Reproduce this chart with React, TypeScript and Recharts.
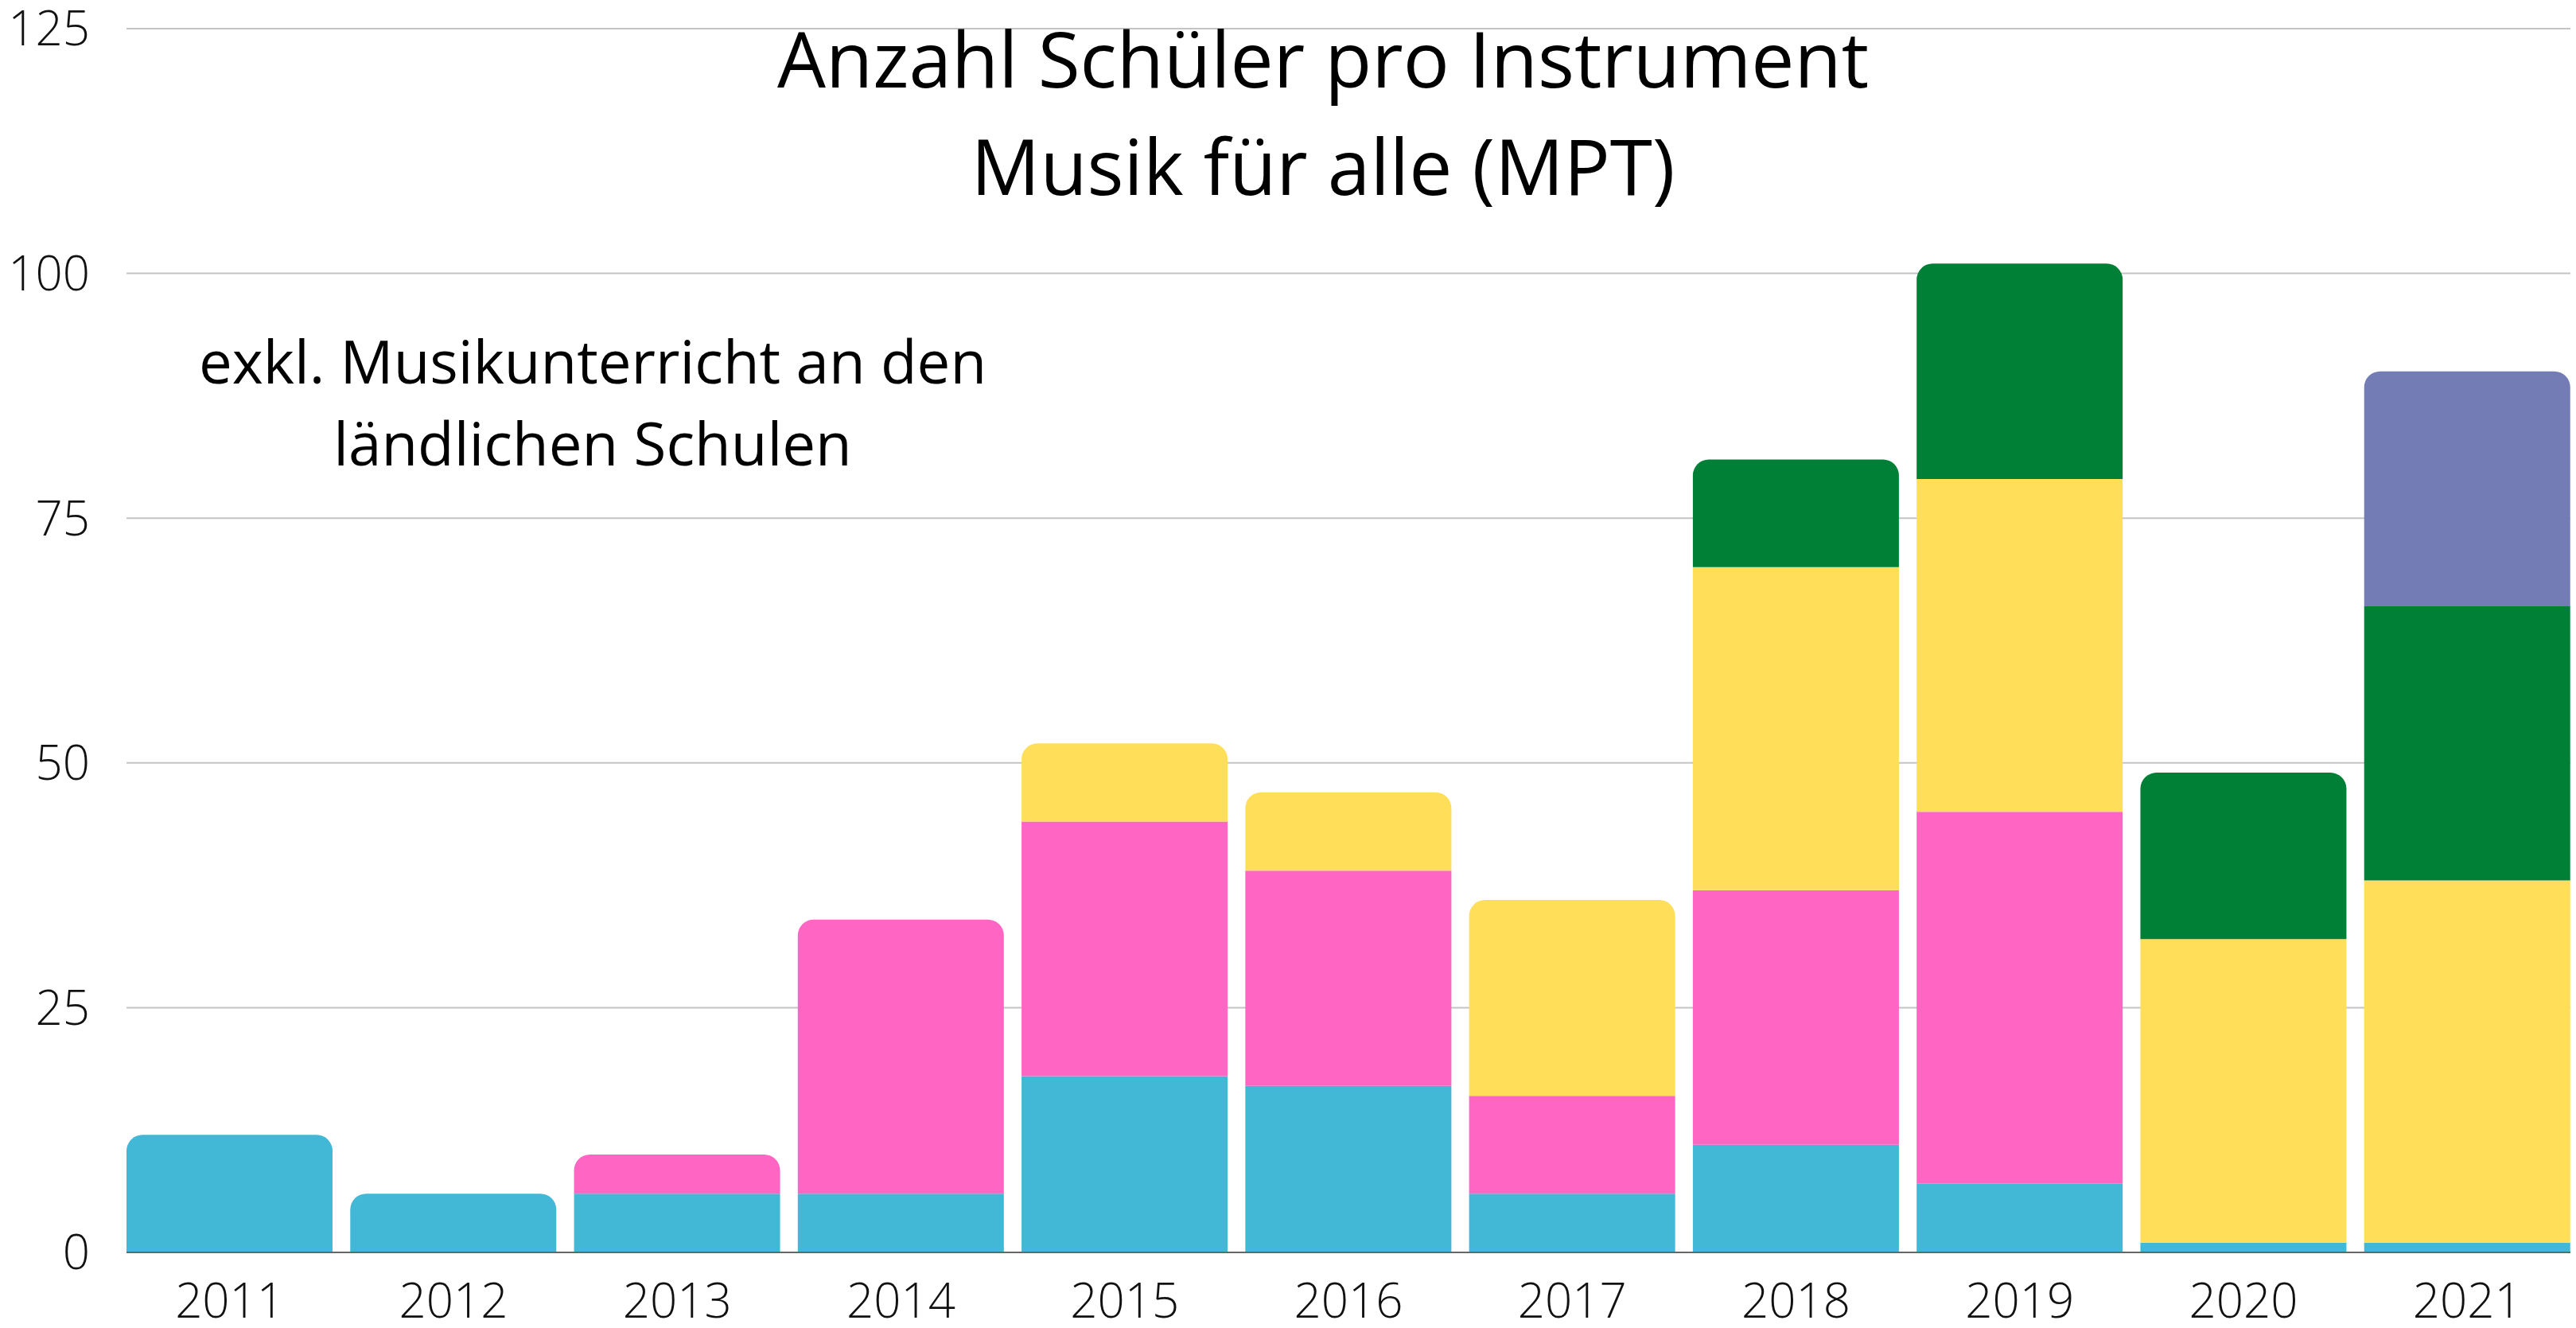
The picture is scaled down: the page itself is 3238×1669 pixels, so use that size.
import { BarChart, Bar, XAxis, YAxis, CartesianGrid, Rectangle } from "recharts";

const years = ["2011", "2012", "2013", "2014", "2015", "2016", "2017", "2018", "2019", "2020", "2021"];
const blau = [12, 6, 6, 6, 18, 17, 6, 11, 7, 1, 1];
const rosa = [0, 0, 4, 28, 26, 22, 10, 26, 38, 0, 0];
const gelb = [0, 0, 0, 0, 8, 8, 20, 33, 34, 31, 37];
const gruen = [0, 0, 0, 0, 0, 0, 0, 11, 22, 17, 28];
const lila = [0, 0, 0, 0, 0, 0, 0, 0, 0, 0, 24];
const yTicks = [0, 25, 50, 75, 100, 125];

const series = [
  { key: "blau", values: blau, color: "#42B7D6" },
  { key: "rosa", values: rosa, color: "#FF66C4" },
  { key: "gelb", values: gelb, color: "#FFDE59" },
  { key: "gruen", values: gruen, color: "#008037" },
  { key: "lila", values: lila, color: "#737CB5" },
];

const data = years.map((year, i) => {
  const row: Record<string, string | number> = { year };
  series.forEach((s) => (row[s.key] = s.values[i]));
  return row;
});

// welche Serie liegt oben -> nur die bekommt runde Ecken
const topKey = years.map((_, i) => {
  let k = "";
  series.forEach((s) => {
    if (s.values[i] > 0) k = s.key;
  });
  return k;
});

const font = "'Open Sans', 'Noto Sans', sans-serif";

export default function App() {
  return (
    <div style={{ position: "absolute", left: 0, top: 0, width: 3238, height: 1669, background: "#fff" }}>
      <BarChart
        width={3238}
        height={1669}
        data={data}
        margin={{ top: 36, right: 7, left: 0, bottom: 0 }}
        barCategoryGap={11}
      >
        <CartesianGrid vertical={false} stroke="#c4c4c4" strokeWidth={2} />
        <XAxis
          dataKey="year"
          padding={{ left: -11, right: -11 }}
          height={95}
          tickSize={0}
          tickMargin={39}
          axisLine={{ stroke: "#666666", strokeWidth: 2 }}
          tick={{ fontSize: 60, fill: "#111", fontFamily: font, fontWeight: 300 }}
        />
        <YAxis
          width={159}
          domain={[0, 125]}
          ticks={yTicks}
          tickSize={0}
          tickMargin={46}
          axisLine={false}
          tickLine={false}
          tick={{ fontSize: 60, fill: "#111", fontFamily: font, fontWeight: 300 }}
        />
        {series.map((s) => (
          <Bar
            key={s.key}
            dataKey={s.key}
            stackId="a"
            fill={s.color}
            isAnimationActive={false}
            shape={(props: any) => (
              <Rectangle
                {...props}
                radius={topKey[props.index] === s.key ? [20, 20, 0, 0] : 0}
              />
            )}
          />
        ))}
      </BarChart>
      <svg
        width={3238}
        height={1669}
        style={{ position: "absolute", left: 0, top: 0, pointerEvents: "none" }}
      >
        <g fontFamily={font} fill="#000" textAnchor="middle">
          <text x={1663} y={110} fontSize={96.5}>Anzahl Schüler pro Instrument</text>
          <text x={1663} y={245} fontSize={96.5}>Musik für alle (MPT)</text>
          <text x={745} y={482} fontSize={74.5}>exkl. Musikunterricht an den</text>
          <text x={745} y={585} fontSize={74.5}>ländlichen Schulen</text>
        </g>
      </svg>
    </div>
  );
}
